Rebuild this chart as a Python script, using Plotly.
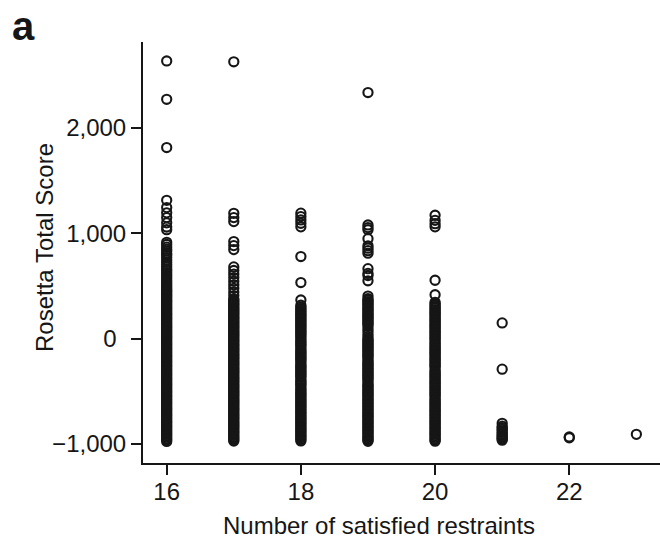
import plotly.graph_objects as go

# Rosetta total score of each model, grouped by number of satisfied restraints
restraints = [16, 17, 18, 19, 20, 21, 22, 23]

scores_16 = [2637, 2273, 1815, 1314, 1245, 1195, 1150, 1100, 1060, 1035,
             915, 895, 870, 850, 832, 810, 792, 770, 748, 725, 704, 684, 662, 645,
             626, 608, 590, 572, 553, 536, 520, 502, 487, 471, 458,
             446, 432, 418, 405, 391, 377, 363, 350, 336, 322, 309, 295, 281, 268,
             254, 240, 227, 213, 199, 186, 172, 158, 145, 131, 117, 104, 90, 76, 63,
             49, 35, 22, 8, -6, -19, -33, -47, -60, -74, -88, -101, -115, -129, -142,
             -156, -170, -183, -197, -211, -224, -238, -252, -265, -279, -293, -306,
             -320, -334, -347, -361, -375, -388, -402, -416, -429, -443, -457, -470,
             -484, -498, -511, -525, -539, -552, -566, -580, -593, -607, -621, -634,
             -648, -662, -675, -689, -703, -716, -730, -744, -757, -771, -785, -798,
             -812, -826, -839, -853, -867, -880, -894, -908, -921, -935, -949, -962,
             -975]

scores_17 = [2629, 1190, 1150, 1112, 922, 884, 846, 682, 648, 614, 580, 546, 512,
             478, 444, 410,
             378, 364, 351, 337, 324, 310, 297, 283, 270, 256, 243, 229, 216, 202,
             189, 175, 162, 148, 135, 121, 108, 94, 81, 67, 54, 40, 27, 13, 0, -14,
             -27, -41, -54, -68, -81, -95, -108, -122, -135, -149, -162, -176, -189,
             -203, -216, -230, -243, -257, -270, -284, -297, -311, -324, -338, -351,
             -365, -378, -392, -405, -419, -432, -446, -459, -473, -486, -500, -513,
             -527, -540, -554, -567, -581, -594, -608, -621, -635, -648, -662, -675,
             -689, -702, -716, -729, -743, -756, -770, -783, -797, -810, -824, -837,
             -851, -864, -878, -891, -905, -918, -932, -945, -959, -972]

scores_18 = [1192, 1160, 1128, 1096, 1062, 780, 533, 368, 318,
             300, 286, 272, 259, 245, 231, 218, 204, 190, 177, 163, 149, 136, 122,
             108, 95, 81, 67, 54, 40, 26, 10, -8, -24, -38, -52, -65, -80, -100,
             -114, -128, -141, -155, -169, -182, -196, -210, -226, -244, -258, -272,
             -285, -299, -313, -326, -340, -354, -367, -388, -402, -416, -429, -443,
             -462, -478, -492, -506, -519, -533, -547, -560, -574, -588, -601, -615,
             -629, -642, -656, -670, -683, -697, -711, -724, -738, -752, -765, -779,
             -793, -806, -820, -834, -847, -861, -875, -888, -902, -916, -929, -943,
             -957, -970]

scores_19 = [2337, 1080, 1055, 1035, 950, 882, 860, 836, 812, 665, 620, 600, 550,
             405,
             380, 366, 353, 339, 326, 312, 299, 285, 272, 258, 245, 231, 218, 204,
             191, 177, 164, 150, 137, 120, 95, 70, 45, 22, 0, -14, -27, -41, -54,
             -68, -81, -95, -108, -122, -135, -149, -162, -176, -196, -212, -226,
             -239, -253, -266, -280, -293, -307, -320, -334, -347, -361, -374, -388,
             -405, -425, -439, -452, -466, -479, -493, -506, -520, -533, -547, -560,
             -574, -587, -601, -614, -628, -641, -655, -668, -682, -695, -709, -722,
             -736, -749, -763, -776, -790, -803, -817, -830, -844, -857, -871, -884,
             -898, -911, -925, -938, -952, -965, -974]

scores_20 = [1172, 1124, 1092, 1062, 555, 418,
             345, 331, 318, 304, 290, 277, 263, 249, 236, 222, 208, 195, 181, 167,
             154, 140, 126, 113, 99, 85, 72, 58, 44, 31, 17, 3, -10, -30, -44, -57,
             -71, -85, -98, -112, -126, -139, -153, -167, -180, -194, -208, -221,
             -235, -249, -262, -276, -300, -314, -328, -341, -355, -369, -382, -396,
             -410, -423, -437, -451, -464, -478, -492, -505, -519, -533, -546, -565,
             -580, -594, -607, -621, -635, -648, -662, -676, -689, -703, -717, -730,
             -744, -758, -771, -785, -799, -812, -826, -840, -853, -867, -881, -894,
             -908, -922, -935, -949, -963, -973]

scores_21 = [150, -289, -803, -830, -845, -860, -875, -890, -905, -918, -930, -942,
             -953, -963]
scores_22 = [-932, -941]
scores_23 = [-908]

x_ticks = [16, 18, 20, 22]
y_ticks = [-1000, 0, 1000, 2000]
y_tick_labels = ["\u22121,000", "0\u2009\u2009", "1,000", "2,000"]

groups = [scores_16, scores_17, scores_18, scores_19, scores_20,
          scores_21, scores_22, scores_23]
xs, ys = [], []
for n, vals in zip(restraints, groups):
    xs.extend([n] * len(vals))
    ys.extend(vals)

FONT = "Liberation Sans, Arial, sans-serif"
INK = "#161616"
FS = 24

fig = go.Figure(go.Scatter(
    x=xs, y=ys, mode="markers",
    marker=dict(symbol="circle-open", size=9.2, color=INK,
                line=dict(width=2.1, color=INK)),
    hoverinfo="x+y", showlegend=False,
))

axis_common = dict(
    showgrid=False, zeroline=False, showline=True, linecolor=INK, linewidth=2,
    ticks="outside", ticklen=10, tickwidth=2, tickcolor=INK,
    tickfont=dict(family=FONT, size=FS, color=INK),
)

fig.update_layout(
    width=660, height=546,
    margin=dict(l=143, r=0, t=42, b=83),
    paper_bgcolor="white", plot_bgcolor="white",
    xaxis=dict(range=[15.647, 23.352], tickvals=x_ticks,
               ticklabelstandoff=-4, **axis_common),
    yaxis=dict(range=[-1180, 2817], tickvals=y_ticks, ticktext=y_tick_labels,
               **axis_common),
    annotations=[
        dict(text="<b>a</b>", xref="paper", yref="paper",
             x=-0.2582, y=1.037, xanchor="left", yanchor="middle",
             showarrow=False, font=dict(family=FONT, size=40, color=INK)),
        dict(text="Number of satisfied restraints", xref="paper", yref="paper",
             x=0.4574, y=-0.1496, xanchor="center", yanchor="middle",
             showarrow=False, font=dict(family=FONT, size=FS, color=INK)),
        dict(text="Rosetta Total Score", xref="paper", yref="paper",
             x=-0.1915, y=0.513, xanchor="center", yanchor="middle",
             textangle=-90, showarrow=False,
             font=dict(family=FONT, size=FS, color=INK)),
    ],
)

fig.write_html("out.html")
